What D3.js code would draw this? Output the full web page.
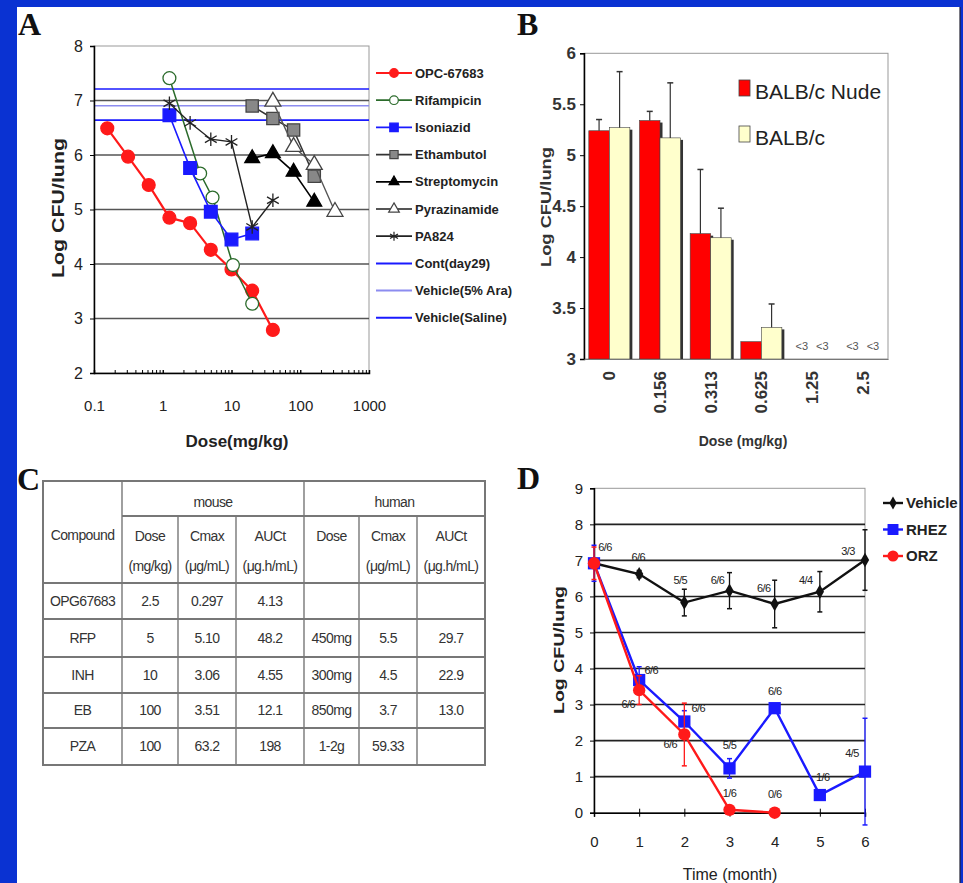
<!DOCTYPE html>
<html>
<head>
<meta charset="utf-8">
<script src="https://cdn.jsdelivr.net/npm/d3@7"></script>
<style>
body { margin: 0; background: #0a32d2; }
svg { display: block; font-family: Arial, "Liberation Sans", sans-serif; }
</style>
</head>
<body>
<svg id="fig" width="963" height="883"></svg>
<script>
// ---- panel A : log CFU/lung vs dose (mg/kg) ----
const opcDose = [0.156, 0.313, 0.625, 1.25, 2.5, 5, 10, 20, 40];
const opcLog  = [6.49, 5.97, 5.45, 4.85, 4.75, 4.26, 3.9, 3.51, 2.79];
const rfpDose = [1.25, 3.5, 5.3, 10.5, 20];
const rfpLog  = [7.41, 5.66, 5.22, 3.98, 3.27];
const inhDose = [1.25, 2.5, 5, 10, 20];
const inhLog  = [6.73, 5.76, 4.96, 4.45, 4.56];
const embDose = [20, 40, 80, 160];
const embLog  = [6.9, 6.67, 6.46, 5.61];
const smDose  = [20, 40, 80, 160];
const smLog   = [5.94, 6.03, 5.69, 5.14];
const pzaDose = [40, 80, 160, 320];
const pzaLog  = [6.98, 6.15, 5.82, 4.96];
const paDose  = [1.25, 2.5, 5, 10, 20, 40];
const paLog   = [6.95, 6.59, 6.29, 6.24, 4.68, 5.17];
const drugNames = ['OPC-67683', 'Rifampicin', 'Isoniazid', 'Ethambutol', 'Streptomycin', 'Pyrazinamide', 'PA824'];
const ctrlNames = ['Cont(day29)', 'Vehicle(5% Ara)', 'Vehicle(Saline)'];
const ctrlLog   = [7.21, 6.905, 6.64];
const aDecades  = [0.1, 1, 10, 100, 1000];

// ---- panel B : bars ----
const bDoses   = ['0', '0.156', '0.313', '0.625', '1.25', '2.5'];
const nudeMean = [5.24, 5.34, 4.23, 3.17, null, null];
const nudeSD   = [0.11, 0.09, 0.63, 0, null, null];
const balbMean = [5.27, 5.17, 4.19, 3.31, null, null];
const balbSD   = [0.55, 0.54, 0.29, 0.23, null, null];
const bGroups  = ['BALB/c Nude', 'BALB/c'];
const bTicks   = [3, 3.5, 4, 4.5, 5, 5.5, 6];

// ---- panel C : PK table ----
const cHead2 = [['Dose', '(mg/kg)'], ['Cmax', '(\u03bcg/mL)'], ['AUCt', '(\u03bcg.h/mL)'],
                ['Dose', ''], ['Cmax', '(\u03bcg/mL)'], ['AUCt', '(\u03bcg.h/mL)']];
const cRows = [
  ['OPG67683', '2.5', '0.297', '4.13', '', '', ''],
  ['RFP', '5', '5.10', '48.2', '450mg', '5.5', '29.7'],
  ['INH', '10', '3.06', '4.55', '300mg', '4.5', '22.9'],
  ['EB', '100', '3.51', '12.1', '850mg', '3.7', '13.0'],
  ['PZA', '100', '63.2', '198', '1-2g', '59.33', '']
];

// ---- panel D : time course ----
const months   = [0, 1, 2, 3, 4, 5, 6];
const vehMean  = [6.92, 6.62, 5.83, 6.16, 5.79, 6.13, 7.01];
const vehSD    = [0.05, 0.1, 0.37, 0.5, 0.66, 0.56, 0.84];
const vehN     = ['6/6', '6/6', '5/5', '6/6', '6/6', '4/4', '3/3'];
const rhezMean = [6.92, 3.68, 2.53, 1.23, 2.9, 0.49, 1.14];
const rhezSD   = [0.5, 0.37, 0.3, 0.27, 0.08, 0.08, 1.48];
const rhezN    = ['', '6/6', '6/6', '5/5', '6/6', '1/6', '4/5'];
const orzMonths = [0, 1, 2, 3, 4];
const orzMean  = [6.92, 3.4, 2.17, 0.08, 0.0];
const orzSD    = [0.45, 0.4, 0.87, 0, 0];
const orzN     = ['', '6/6', '6/6', '1/6', '0/6'];
const dNames   = ['Vehicle', 'RHEZ', 'ORZ'];

const svg = d3.select('#fig');

// white sheet on blue
svg.append('rect').attr('x', 17).attr('y', 7).attr('width', 943).attr('height', 876).attr('fill', '#fff');

function panelLetter(t, x, y) {
  svg.append('text').attr('x', x).attr('y', y).text(t)
    .attr('font-family', '"Liberation Serif", "Times New Roman", serif')
    .attr('font-weight', 'bold').attr('font-size', 32).attr('fill', '#111');
}
function styleAxis(g, size) {
  g.select('.domain').attr('stroke', '#000').attr('stroke-width', 1.5);
  g.selectAll('.tick line').attr('stroke', '#000');
  g.selectAll('text').attr('font-size', size).attr('fill', '#222').attr('font-family', 'Arial, "Liberation Sans", sans-serif');
}

// =============== A ===============
panelLetter('A', 18, 35);
const xA = d3.scaleLog().domain([0.1, 1000]).range([94, 369]);
const yA = d3.scaleLinear().domain([2, 8]).range([373, 46]);
const gA = svg.append('g');

gA.append('rect').attr('x', 94).attr('y', 46).attr('width', 275).attr('height', 327)
  .attr('fill', 'none').attr('stroke', '#999');
gA.selectAll('.gridA').data([3, 4, 5, 6, 7]).join('line')
  .attr('x1', 94).attr('x2', 369).attr('y1', d => yA(d)).attr('y2', d => yA(d))
  .attr('stroke', '#555').attr('stroke-width', 1.6);

const ctrlCol = ['#1a1aff', '#8c8cf0', '#1a1aff'];
gA.selectAll('.ctrl').data(ctrlLog).join('line')
  .attr('x1', 94).attr('x2', 369).attr('y1', d => yA(d)).attr('y2', d => yA(d))
  .attr('stroke', (d, i) => ctrlCol[i]).attr('stroke-width', 1.6);

const styleA = [
  { line: '#ff1a1a', w: 2.2, sym: d3.symbolCircle, size: 130, fill: '#ff1a1a', stroke: '#ff1a1a' },
  { line: '#2b6b2b', w: 1.5, sym: d3.symbolCircle, size: 130, fill: '#fff', stroke: '#2b6b2b' },
  { line: '#1a1aff', w: 1.6, sym: d3.symbolSquare, size: 160, fill: '#1a1aff', stroke: '#1a1aff' },
  { line: '#333', w: 1.5, sym: d3.symbolSquare, size: 150, fill: '#888', stroke: '#444' },
  { line: '#000', w: 1.6, sym: d3.symbolTriangle, size: 95, fill: '#000', stroke: '#000' },
  { line: '#555', w: 1.4, sym: d3.symbolTriangle, size: 110, fill: '#fff', stroke: '#444' },
  { line: '#222', w: 1.4, sym: d3.symbolAsterisk, size: 130, fill: 'none', stroke: '#222' }
];
const seriesA = [[opcDose, opcLog], [rfpDose, rfpLog], [inhDose, inhLog], [embDose, embLog],
                 [smDose, smLog], [pzaDose, pzaLog], [paDose, paLog]];
const lineA = d3.line().x(d => xA(d[0])).y(d => yA(d[1]));

seriesA.forEach((s, i) => {
  const pts = d3.zip(s[0], s[1]);
  const st = styleA[i];
  gA.append('path').datum(pts).attr('d', lineA).attr('fill', 'none')
    .attr('stroke', st.line).attr('stroke-width', st.w);
  gA.selectAll('.m' + i).data(pts).join('path')
    .attr('transform', d => `translate(${xA(d[0])},${yA(d[1])})`)
    .attr('d', d3.symbol(st.sym, st.size))
    .attr('fill', st.fill).attr('stroke', st.stroke).attr('stroke-width', 1.3);
});

const axA = gA.append('g').attr('transform', 'translate(94,0)')
  .call(d3.axisLeft(yA).ticks(6).tickFormat(d3.format('d')).tickSize(4).tickPadding(7));
styleAxis(axA, 16);

const minorA = [];
[0.1, 1, 10, 100].forEach(d => { for (let k = 1; k <= 10; k++) minorA.push(d * k); });
const axAm = gA.append('g').attr('transform', 'translate(0,373)')
  .call(d3.axisTop(xA).tickValues(minorA).tickFormat('').tickSize(3));
styleAxis(axAm, 15);
const axAb = gA.append('g').attr('transform', 'translate(0,373)')
  .call(d3.axisBottom(xA).tickValues(aDecades).tickFormat(d => d).tickSize(0).tickPadding(27));
styleAxis(axAb, 15);
axAb.select('.domain').remove();

gA.append('text').attr('transform', 'translate(64,208) rotate(-90)').attr('text-anchor', 'middle')
  .attr('font-weight', 'bold').attr('font-size', 17).attr('fill', '#222')
  .attr('textLength', 140).attr('lengthAdjust', 'spacingAndGlyphs').text('Log CFU/lung');
gA.append('text').attr('x', 237).attr('y', 447).attr('text-anchor', 'middle')
  .attr('font-weight', 'bold').attr('font-size', 17).attr('fill', '#222').text('Dose(mg/kg)');

// legend A
const legA = drugNames.concat(ctrlNames);
legA.forEach((name, i) => {
  const y = 73 + i * 27.2;
  const g = gA.append('g');
  if (i < drugNames.length) {
    const st = styleA[i];
    g.append('line').attr('x1', 376).attr('x2', 412).attr('y1', y).attr('y2', y)
      .attr('stroke', st.line).attr('stroke-width', 1.8);
    g.append('path').attr('transform', `translate(394,${y})`)
      .attr('d', d3.symbol(st.sym, st.size * 0.45))
      .attr('fill', st.fill).attr('stroke', st.stroke).attr('stroke-width', 1.2);
  } else {
    g.append('line').attr('x1', 376).attr('x2', 412).attr('y1', y).attr('y2', y)
      .attr('stroke', ctrlCol[i - drugNames.length]).attr('stroke-width', 2);
  }
  g.append('text').attr('x', 415).attr('y', y).attr('dy', '0.36em')
    .attr('font-size', 13).attr('font-weight', 'bold').attr('fill', '#222').text(name);
});

// =============== B ===============
panelLetter('B', 517, 35);
const xB = d3.scaleBand().domain(bDoses).range([584, 888]).paddingInner(0.19).paddingOuter(0.095);
const xB1 = d3.scaleBand().domain(bGroups).range([0, xB.bandwidth()]);
const yB = d3.scaleLinear().domain([3, 6]).range([359, 53.3]);
const gB = svg.append('g');
const bCol = ['#ff0000', '#ffffcc'];

gB.append('rect').attr('x', 584).attr('y', 53.3).attr('width', 304).attr('height', 305.7)
  .attr('fill', 'none').attr('stroke', '#999');

const bData = [];
bDoses.forEach((d, i) => {
  if (nudeMean[i] != null) bData.push({ dose: d, grp: 0, v: nudeMean[i], sd: nudeSD[i] });
  if (balbMean[i] != null) bData.push({ dose: d, grp: 1, v: balbMean[i], sd: balbSD[i] });
});
const bx = d => xB(d.dose) + xB1(bGroups[d.grp]);
// shadow + bars
gB.selectAll('.shadow').data(bData).join('rect')
  .attr('x', d => bx(d) + 2.5).attr('y', d => yB(d.v) + 2)
  .attr('width', xB1.bandwidth()).attr('height', d => yB(3) - yB(d.v) - 2)
  .attr('fill', '#333');
gB.selectAll('.bar').data(bData).join('rect')
  .attr('x', bx).attr('y', d => yB(d.v))
  .attr('width', xB1.bandwidth()).attr('height', d => yB(3) - yB(d.v))
  .attr('fill', d => bCol[d.grp]).attr('stroke', '#444').attr('stroke-width', 0.6);
// error bars (upper only)
const bErr = bData.filter(d => d.sd > 0);
gB.selectAll('.eb').data(bErr).join('line')
  .attr('x1', d => bx(d) + xB1.bandwidth() / 2).attr('x2', d => bx(d) + xB1.bandwidth() / 2)
  .attr('y1', d => yB(d.v)).attr('y2', d => yB(d.v + d.sd)).attr('stroke', '#333').attr('stroke-width', 1.2);
gB.selectAll('.ebc').data(bErr).join('line')
  .attr('x1', d => bx(d) + xB1.bandwidth() / 2 - 3).attr('x2', d => bx(d) + xB1.bandwidth() / 2 + 3)
  .attr('y1', d => yB(d.v + d.sd)).attr('y2', d => yB(d.v + d.sd)).attr('stroke', '#333').attr('stroke-width', 1.5);
// below detection labels
const bLow = [];
bDoses.forEach((d, i) => {
  if (nudeMean[i] == null) bLow.push({ dose: d, grp: 0 });
  if (balbMean[i] == null) bLow.push({ dose: d, grp: 1 });
});
gB.selectAll('.low').data(bLow).join('text')
  .attr('x', d => bx(d) + xB1.bandwidth() / 2).attr('y', yB(3.13)).attr('dy', '0.35em')
  .attr('text-anchor', 'middle').attr('font-size', 11).attr('fill', '#555').text('<3');

const axB = gB.append('g').attr('transform', 'translate(584,0)')
  .call(d3.axisLeft(yB).tickValues(bTicks).tickFormat(d => d).tickSize(4).tickPadding(4));
styleAxis(axB, 17);
axB.selectAll('text').attr('font-weight', 'bold').attr('fill', '#333');
const axBx = gB.append('g').attr('transform', 'translate(0,359)')
  .call(d3.axisBottom(xB).tickSize(0).tickPadding(0));
styleAxis(axBx, 17);
axBx.select('.domain').attr('stroke', '#777').attr('stroke-width', 1.2);
axBx.selectAll('text').attr('transform', 'translate(0,12) rotate(-90)')
  .attr('text-anchor', 'end').attr('dy', '0.35em').attr('y', 0).attr('font-weight', 'bold').attr('fill', '#333');

gB.append('text').attr('transform', 'translate(551,207) rotate(-90)').attr('text-anchor', 'middle')
  .attr('font-weight', 'bold').attr('font-size', 14).attr('fill', '#333')
  .attr('textLength', 120).attr('lengthAdjust', 'spacingAndGlyphs').text('Log CFU/lung');
gB.append('text').attr('x', 743).attr('y', 446).attr('text-anchor', 'middle')
  .attr('font-weight', 'bold').attr('font-size', 14).attr('fill', '#333').text('Dose (mg/kg)');

bGroups.forEach((g, i) => {
  const y = 80 + i * 46;
  gB.append('rect').attr('x', 739).attr('y', y).attr('width', 11).attr('height', 16)
    .attr('fill', bCol[i]).attr('stroke', '#444').attr('stroke-width', 0.8);
  gB.append('text').attr('x', 755).attr('y', y + 19).attr('font-size', 21).attr('fill', '#222').text(g);
});

// =============== C ===============
panelLetter('C', 17, 490);
const gC = svg.append('g');
const colX = [43, 122, 178, 236, 304, 359, 417, 485];
const rowY = [481, 516, 583, 619, 657, 693, 728, 765];
const tStroke = '#777';
gC.append('rect').attr('x', colX[0]).attr('y', rowY[0]).attr('width', colX[7] - colX[0]).attr('height', rowY[7] - rowY[0])
  .attr('fill', '#fff').attr('stroke', tStroke).attr('stroke-width', 2);
// horizontal rules
gC.append('line').attr('x1', colX[1]).attr('x2', colX[7]).attr('y1', rowY[1]).attr('y2', rowY[1])
  .attr('stroke', tStroke).attr('stroke-width', 2);
gC.selectAll('.hr').data(rowY.slice(2, 7)).join('line')
  .attr('x1', colX[0]).attr('x2', colX[7]).attr('y1', d => d).attr('y2', d => d)
  .attr('stroke', tStroke).attr('stroke-width', 2.2);
// vertical rules
[1, 4].forEach(c => gC.append('line').attr('x1', colX[c]).attr('x2', colX[c]).attr('y1', rowY[0]).attr('y2', rowY[7])
  .attr('stroke', tStroke).attr('stroke-width', 1.4));
[2, 3, 5, 6].forEach(c => gC.append('line').attr('x1', colX[c]).attr('x2', colX[c]).attr('y1', rowY[1]).attr('y2', rowY[7])
  .attr('stroke', tStroke).attr('stroke-width', 1.4));

const cText = (x, y, t) => gC.append('text').attr('x', x).attr('y', y).attr('dy', '0.35em')
  .attr('text-anchor', 'middle').attr('font-size', 14).attr('letter-spacing', -0.6).attr('fill', '#333').text(t);
cText((colX[0] + colX[1]) / 2, 535, 'Compound');
cText((colX[1] + colX[4]) / 2, 502, 'mouse');
cText((colX[4] + colX[7]) / 2, 502, 'human');
cHead2.forEach((h, i) => {
  const cx = (colX[i + 1] + colX[i + 2]) / 2;
  cText(cx, 536, h[0]);
  cText(cx, 566, h[1]);
});
cRows.forEach((r, ri) => {
  const cy = (rowY[ri + 2] + rowY[ri + 3]) / 2;
  r.forEach((t, ci) => { if (t) cText((colX[ci] + colX[ci + 1]) / 2, cy, t); });
});

// =============== D ===============
panelLetter('D', 517, 489);
const xD = d3.scaleLinear().domain([0, 6]).range([594, 865]);
const yD = d3.scaleLinear().domain([0, 9]).range([812.7, 488.3]);
const gD = svg.append('g');

gD.append('rect').attr('x', 594).attr('y', yD(9)).attr('width', 271).attr('height', yD(0) - yD(9))
  .attr('fill', 'none').attr('stroke', '#999');
gD.selectAll('.gridD').data(d3.range(1, 9)).join('line')
  .attr('x1', 594).attr('x2', 865).attr('y1', d => yD(d)).attr('y2', d => yD(d))
  .attr('stroke', '#222').attr('stroke-width', 1.6);

const styleD = [
  { col: '#111', sym: d3.symbolDiamond, size: 60 },
  { col: '#1a1aff', sym: d3.symbolSquare, size: 150 },
  { col: '#ff1a1a', sym: d3.symbolCircle, size: 120 }
];
const seriesD = [
  { x: months, v: vehMean, sd: vehSD, n: vehN },
  { x: months, v: rhezMean, sd: rhezSD, n: rhezN },
  { x: orzMonths, v: orzMean, sd: orzSD, n: orzN }
];
// label offsets from each point (layout only)
const labelOff = [
  [[11, -16], [-1, -17], [-4, -22], [-12, -11], [-11, -16], [-14, -12], [-17, -9]],
  [[0, 0], [12, -10], [14, -13], [0, -23], [0, -17], [3, -18], [-13, -18]],
  [[0, 0], [-11, 14], [-14, 10], [0, -17], [0, -19]]
];
const lineD = d3.line().x(d => xD(d.x)).y(d => yD(d.v));

const axD = gD.append('g').attr('transform', 'translate(594,0)')
  .call(d3.axisLeft(yD).ticks(9).tickSize(4).tickPadding(7));
styleAxis(axD, 15);
const axDx = gD.append('g').attr('transform', `translate(0,${yD(0)})`)
  .call(d3.axisBottom(xD).ticks(6).tickSize(4).tickPadding(20));
styleAxis(axDx, 15);
axDx.selectAll('.tick line').attr('y1', -4);

seriesD.forEach((s, si) => {
  const pts = s.x.map((x, i) => ({ x, v: s.v[i], sd: s.sd[i], n: s.n[i], off: labelOff[si][i] }));
  const st = styleD[si];
  const g = gD.append('g');
  const eb = pts.filter(d => d.sd > 0);
  g.selectAll('.e').data(eb).join('line')
    .attr('x1', d => xD(d.x)).attr('x2', d => xD(d.x))
    .attr('y1', d => yD(d.v - d.sd)).attr('y2', d => yD(d.v + d.sd))
    .attr('stroke', st.col).attr('stroke-width', 1.3);
  eb.forEach(d => [d.v - d.sd, d.v + d.sd].forEach(v =>
    g.append('line').attr('x1', xD(d.x) - 2.5).attr('x2', xD(d.x) + 2.5).attr('y1', yD(v)).attr('y2', yD(v))
      .attr('stroke', st.col).attr('stroke-width', 1.5)));
  g.append('path').datum(pts).attr('d', lineD).attr('fill', 'none')
    .attr('stroke', st.col).attr('stroke-width', 2.4);
  g.selectAll('.p').data(pts).join('path')
    .attr('transform', d => `translate(${xD(d.x)},${yD(d.v)})`)
    .attr('d', d3.symbol(st.sym, st.size)).attr('fill', st.col);
  g.selectAll('.lab').data(pts.filter(d => d.n)).join('text')
    .attr('x', d => xD(d.x) + d.off[0]).attr('y', d => yD(d.v) + d.off[1]).attr('dy', '0.35em')
    .attr('text-anchor', 'middle').attr('font-size', 11).attr('letter-spacing', -0.6)
    .attr('fill', '#222').text(d => d.n);
});

gD.append('text').attr('transform', 'translate(564,650) rotate(-90)').attr('text-anchor', 'middle')
  .attr('font-weight', 'bold').attr('font-size', 15).attr('fill', '#222')
  .attr('textLength', 128).attr('lengthAdjust', 'spacingAndGlyphs').text('Log CFU/lung');
gD.append('text').attr('x', 730).attr('y', 880).attr('text-anchor', 'middle')
  .attr('font-size', 16).attr('fill', '#222').text('Time (month)');

dNames.forEach((name, i) => {
  const y = 503 + i * 26.5;
  const st = styleD[i];
  gD.append('line').attr('x1', 883).attr('x2', 903).attr('y1', y).attr('y2', y)
    .attr('stroke', st.col).attr('stroke-width', 2.4);
  gD.append('path').attr('transform', `translate(893,${y})`)
    .attr('d', d3.symbol(st.sym, st.size * 0.8)).attr('fill', st.col);
  gD.append('text').attr('x', 906).attr('y', y).attr('dy', '0.36em')
    .attr('font-size', 15).attr('font-weight', 'bold').attr('fill', '#222').text(name);
});

// frame edges on top
svg.append('rect').attr('x', 960).attr('y', 0).attr('width', 3).attr('height', 883).attr('fill', '#0a32d2');
svg.append('line').attr('x1', 960).attr('x2', 960).attr('y1', 7).attr('y2', 883).attr('stroke', '#223').attr('stroke-width', 1.2);
</script>
</body>
</html>
